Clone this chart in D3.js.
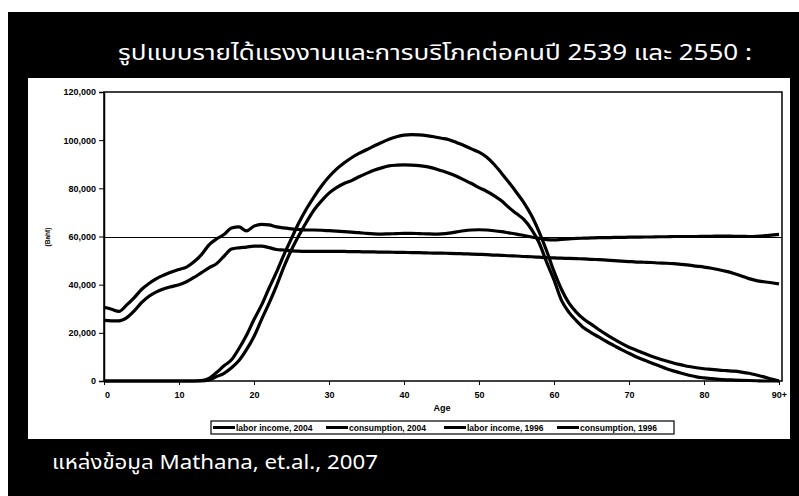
<!DOCTYPE html>
<html>
<head>
<meta charset="utf-8">
<script src="https://cdn.jsdelivr.net/npm/d3@7"></script>
<style>
  html, body { margin: 0; padding: 0; background: #fff; }
  svg { display: block; }
</style>
</head>
<body>
<svg id="chart" width="799" height="496"></svg>
<script>
// Age categories 0..90 (last one shown as "90+")
const ages = d3.range(0, 91);
const xTickAges = [0, 10, 20, 30, 40, 50, 60, 70, 80, 90];
const xTickLabels = ["0", "10", "20", "30", "40", "50", "60", "70", "80", "90+"];
const yTicks = [0, 20000, 40000, 60000, 80000, 100000, 120000];

const seriesNames = ["labor income, 2004", "consumption, 2004", "labor income, 1996", "consumption, 1996"];

// Per-capita labor income by age, 2004 (Baht)
const laborIncome2004 = [
  0, 0, 0, 0, 0, 0, 0, 0, 0, 0,
  0, 0, 0, 200, 1100, 3500, 6300, 8800, 13500, 19000,
  25500, 31500, 38500, 45200, 52500, 59200, 65800, 71500, 76500, 81000,
  84800, 88000, 90500, 92700, 94500, 96000, 97600, 99000, 100400, 101400,
  102100, 102300, 102200, 101900, 101400, 100800, 100200, 99000, 97800, 96400,
  95000, 93000, 90000, 86300, 82400, 78300, 74000, 68700, 62000, 54200,
  45500, 38000, 32300, 28500, 25600, 23500, 21300, 19300, 17400, 15600,
  14000, 12800, 11500, 10300, 9200, 8300, 7400, 6700, 6000, 5500,
  5100, 4800, 4500, 4300, 4100, 3700, 3200, 2500, 1700, 800,
  0
];

// Per-capita consumption by age, 2004 (Baht)
const consumption2004 = [
  30600, 29800, 28900, 31500, 34500, 38000, 40500, 42500, 44000, 45300,
  46300, 47300, 49500, 52500, 56500, 59000, 60800, 63500, 64000, 62300,
  64300, 65000, 64800, 64000, 63600, 63200, 62900, 62700, 62700, 62600,
  62400, 62200, 62000, 61800, 61600, 61300, 61100, 61000, 61100, 61200,
  61300, 61300, 61200, 61100, 61000, 61100, 61400, 61900, 62400, 62700,
  62800, 62700, 62400, 62000, 61500, 61000, 60400, 59800, 59200, 58700,
  58600, 58800, 59000, 59200, 59300, 59400, 59500, 59500, 59600, 59600,
  59700, 59700, 59800, 59800, 59900, 59900, 60000, 60000, 60000, 60000,
  60100, 60100, 60200, 60200, 60100, 60100, 60000, 60100, 60300, 60600,
  60900
];

// Per-capita labor income by age, 1996 (Baht)
const laborIncome1996 = [
  0, 0, 0, 0, 0, 0, 0, 0, 0, 0,
  0, 0, 0, 0, 400, 1800, 3200, 5500, 8500, 13000,
  18500, 25500, 32200, 39500, 47500, 54500, 60500, 66000, 71000, 74800,
  78000, 80300, 82000, 83200, 84800, 86200, 87500, 88500, 89300, 89600,
  89700, 89600, 89400, 89000, 88300, 87300, 86300, 85000, 83500, 82000,
  80300, 78800, 77000, 74800, 72000, 69500, 67000, 63000, 57500, 49500,
  42000, 33500, 28500, 25000, 22000, 20000, 18200, 16400, 14700, 13000,
  11500, 10000, 8700, 7500, 6300, 5100, 4100, 3200, 2400, 1700,
  1300, 1000, 700, 500, 400, 300, 200, 100, 0, 0,
  0
];

// Per-capita consumption by age, 1996 (Baht)
const consumption1996 = [
  25200, 25000, 25000, 26200, 29000, 32500, 35200, 37000, 38300, 39200,
  40000, 41200, 43000, 45000, 47000, 48700, 51800, 54800, 55300, 55600,
  56000, 56000, 55400, 54600, 54400, 54000, 53900, 53800, 53800, 53800,
  53800, 53800, 53800, 53700, 53700, 53600, 53600, 53500, 53500, 53400,
  53400, 53300, 53300, 53200, 53100, 53100, 53000, 52900, 52800, 52700,
  52600, 52500, 52300, 52200, 52000, 51900, 51700, 51600, 51400, 51200,
  51100, 51000, 50900, 50800, 50700, 50500, 50400, 50200, 50000, 49800,
  49600, 49400, 49300, 49200, 49000, 48900, 48700, 48400, 48100, 47700,
  47300, 46800, 46200, 45500, 44600, 43600, 42500, 41700, 41200, 40800,
  40300
];

const seriesValues = [laborIncome2004, consumption2004, laborIncome1996, consumption1996];

const svg = d3.select("#chart");
const thaiFont = "'Noto Sans Thai', 'Noto Sans', 'DejaVu Sans', sans-serif";
const axisFont = "'Liberation Sans', Arial, sans-serif";

// Slide background
svg.append("rect").attr("x", 8).attr("y", 12).attr("width", 791).attr("height", 484).attr("fill", "#000");

// Title
svg.append("text")
  .attr("x", 118).attr("y", 60)
  .attr("fill", "#fff")
  .attr("font-family", thaiFont)
  .attr("font-size", 22)
  .attr("textLength", 634)
  .attr("lengthAdjust", "spacingAndGlyphs")
  .text("รูปแบบรายได้แรงงานและการบริโภคต่อคนปี 2539 และ 2550 :");

// White chart panel
svg.append("rect").attr("x", 28).attr("y", 78).attr("width", 762).attr("height", 361).attr("fill", "#fff");

const plot = { left: 104, right: 782, top: 92, bottom: 381 };

const x = d3.scaleLinear().domain([0, 90]).range([plot.left, 779]);
const y = d3.scaleLinear().domain([0, 120000]).range([plot.bottom, plot.top]);

// Reference gridline at 60,000
svg.append("line")
  .attr("x1", plot.left).attr("x2", plot.right)
  .attr("y1", y(60000) + 1).attr("y2", y(60000) + 1)
  .attr("stroke", "#000").attr("stroke-width", 1.2);

// Series lines
const line = d3.line()
  .x((d, i) => x(ages[i]))
  .y(d => y(d))
  .curve(d3.curveMonotoneX);

svg.append("g").selectAll("path")
  .data(seriesValues)
  .join("path")
  .attr("d", d => line(d))
  .attr("fill", "none")
  .attr("stroke", "#000")
  .attr("stroke-width", 3.2)
  .attr("stroke-linejoin", "round");

// Plot frame
svg.append("rect")
  .attr("x", plot.left).attr("y", plot.top)
  .attr("width", plot.right - plot.left).attr("height", plot.bottom - plot.top)
  .attr("fill", "none").attr("stroke", "#000").attr("stroke-width", 1.5);

// Y axis
const yAxis = d3.axisLeft(y)
  .tickValues(yTicks)
  .tickFormat(d3.format(","))
  .tickSize(5)
  .tickPadding(3);
const yg = svg.append("g").attr("transform", `translate(${plot.left},0)`).call(yAxis);
yg.select(".domain").attr("stroke-width", 1.5);
yg.selectAll("text")
  .attr("font-family", axisFont).attr("font-weight", "bold").attr("font-size", 9).attr("fill", "#000");

// X axis
const xAxis = d3.axisBottom(x)
  .tickValues(xTickAges)
  .tickFormat((d, i) => xTickLabels[i])
  .tickSize(4)
  .tickPadding(7);
const xg = svg.append("g").attr("transform", `translate(0,${plot.bottom})`).call(xAxis);
xg.select(".domain").remove();
xg.selectAll("text")
  .attr("font-family", axisFont).attr("font-weight", "bold").attr("font-size", 9).attr("fill", "#000");
xg.selectAll("text").filter((d, i) => i === 0).attr("dx", 3);

// Axis titles
svg.append("text")
  .attr("x", 442).attr("y", 411)
  .attr("text-anchor", "middle")
  .attr("font-family", axisFont).attr("font-weight", "bold").attr("font-size", 9)
  .text("Age");

svg.append("text")
  .attr("transform", "translate(50,237) rotate(-90)")
  .attr("text-anchor", "middle")
  .attr("font-family", axisFont).attr("font-weight", "bold").attr("font-size", 6.5)
  .text("(Baht)");

// Legend
const legend = svg.append("g");
legend.append("rect")
  .attr("x", 211).attr("y", 421).attr("width", 463).attr("height", 13)
  .attr("fill", "#fff").attr("stroke", "#000").attr("stroke-width", 1.2);

const legendStarts = [213, 326, 444, 557];
seriesNames.forEach((name, i) => {
  const gx = legendStarts[i];
  legend.append("line")
    .attr("x1", gx).attr("x2", gx + 22)
    .attr("y1", 427.5).attr("y2", 427.5)
    .attr("stroke", "#000").attr("stroke-width", 3);
  legend.append("text")
    .attr("x", gx + 23).attr("y", 431)
    .attr("font-family", axisFont).attr("font-weight", "bold").attr("font-size", 8.5)
    .text(name);
});

// Source note
svg.append("text")
  .attr("x", 52).attr("y", 469)
  .attr("fill", "#fff")
  .attr("font-family", thaiFont)
  .attr("font-size", 19)
  .attr("textLength", 326)
  .attr("lengthAdjust", "spacingAndGlyphs")
  .text("แหล่งข้อมูล Mathana, et.al., 2007");
</script>
</body>
</html>
